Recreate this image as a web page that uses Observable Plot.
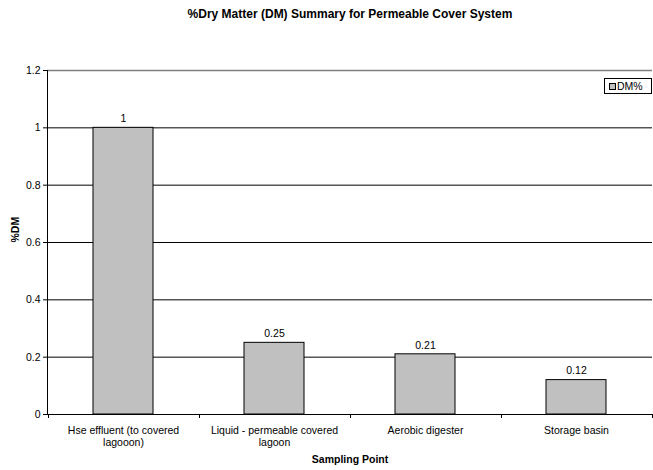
<!DOCTYPE html>
<html>
<head>
<meta charset="utf-8">
<script src="https://cdn.jsdelivr.net/npm/d3@7"></script>
<script src="https://cdn.jsdelivr.net/npm/@observablehq/plot@0.6"></script>
<style>
  body { margin: 0; background: #fff; font-family: "Liberation Sans", Arial, sans-serif; }
  #wrap { position: relative; width: 653px; height: 470px; }
  #legend { position: absolute; left: 604px; top: 78px; width: 46px; height: 14px; border: 1px solid #000;
            background: #fff; font-size: 10.5px; line-height: 14px; display: flex; align-items: center; box-sizing: content-box; }
  #legend .sw { width: 5px; height: 5px; background: #c0c0c0; border: 1px solid #000; margin: 0 1px 0 4px; }
</style>
</head>
<body>
<div id="wrap">
  <div id="chart"></div>
  <div id="legend"><span class="sw"></span><span>DM%</span></div>
</div>
<script>
const categories = [
  "Hse effluent (to covered lagooon)",
  "Liquid - permeable covered lagoon",
  "Aerobic digester",
  "Storage basin"
];
const tickLabels = [
  "Hse effluent (to covered\nlagooon)",
  "Liquid - permeable covered\nlagoon",
  "Aerobic digester",
  "Storage basin"
];
const dmValues = [1, 0.25, 0.21, 0.12];
const valueLabels = ["1", "0.25", "0.21", "0.12"];
const yTicks = [0, 0.2, 0.4, 0.6, 0.8, 1, 1.2];
const yTickLabels = ["0", "0.2", "0.4", "0.6", "0.8", "1", "1.2"];
const title = "%Dry Matter (DM) Summary for Permeable Cover System";
const xTitle = "Sampling Point";
const yTitle = "%DM";

const data = categories.map((c, i) => ({cat: c, value: dmValues[i], label: valueLabels[i], tick: tickLabels[i]}));
const paddingInner = 0.6;

// category boundary tick marks (between bands) and left axis line, derived from the scales
function axisLines(index, scales, values, dims) {
  const x = scales.x;
  const step = x(categories[1]) - x(categories[0]);
  const g = d3.create("svg:g").attr("stroke", "#000").attr("stroke-width", 1);
  const y0 = scales.y(0);
  const yTop = scales.y(1.2);
  g.append("line").attr("x1", dims.marginLeft + 0.5).attr("x2", dims.marginLeft + 0.5).attr("y1", yTop).attr("y2", y0 + 0.5);
  const bounds = categories.map(c => x(c) - paddingInner * step / 2);
  bounds.push(x(categories[categories.length - 1]) + step - paddingInner * step / 2);
  for (const b of bounds) {
    const bx = Math.round(b) + 0.5;
    g.append("line").attr("x1", bx).attr("x2", bx).attr("y1", y0).attr("y2", y0 + 4);
  }
  return g.node();
}

const chart = Plot.plot({
  width: 653,
  height: 470,
  marginLeft: 47,
  marginRight: 1,
  marginTop: 70,
  marginBottom: 56,
  style: {fontFamily: "'Liberation Sans', Arial, sans-serif", fontSize: "10.5px", color: "#000", background: "#fff"},
  x: {domain: categories, paddingInner: paddingInner, paddingOuter: 0.3, label: null},
  y: {domain: [0, 1.2], label: null},
  marks: [
    Plot.ruleY(yTicks.filter(d => d > 0 && d < 1.2), {stroke: "#000", strokeWidth: 1}),
    Plot.ruleY([1.2], {stroke: "#808080", strokeWidth: 1.5}),
    Plot.barY(data, {x: "cat", y: "value", fill: "#c0c0c0", stroke: "#000", strokeWidth: 1}),
    Plot.text(data, {x: "cat", y: "value", text: "label", dy: -9, fontSize: 10.5, fill: "#000"}),
    Plot.ruleY([0], {stroke: "#000"}),
    Plot.axisY({ticks: yTicks, tickFormat: d => yTickLabels[yTicks.indexOf(d)], tickSize: 4, tickPadding: 3, fontSize: 10.5, label: null}),
    Plot.axisX({tickSize: 0, tickPadding: 11, lineHeight: 1.15, tickFormat: d => tickLabels[categories.indexOf(d)], fontSize: 10.5, label: null}),
    axisLines,
    Plot.text([title], {frameAnchor: "top", dy: -61, fontWeight: "bold", fontSize: 12, fill: "#000"}),
    Plot.text([xTitle], {frameAnchor: "bottom", dy: 48, fontWeight: "bold", fontSize: 10.5, fill: "#000"}),
    Plot.text([yTitle], {frameAnchor: "left", dx: -32, rotate: -90, fontWeight: "bold", fontSize: 10.5, fill: "#000"})
  ]
});
document.getElementById("chart").append(chart);
</script>
</body>
</html>
